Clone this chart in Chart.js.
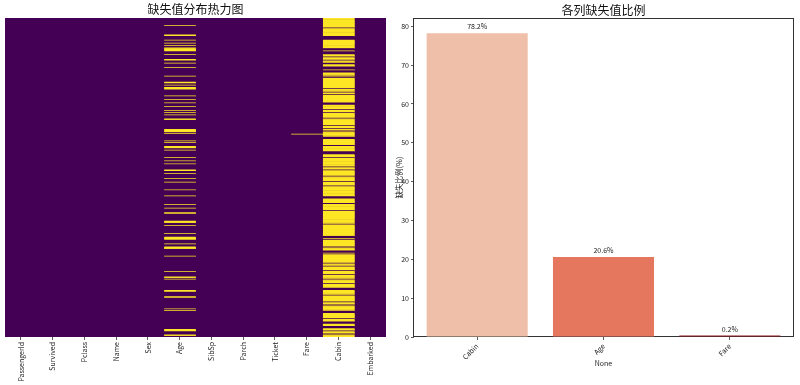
<!DOCTYPE html>
<html><head><meta charset="utf-8">
<script src="https://cdn.jsdelivr.net/npm/chart.js@4/dist/chart.umd.min.js"></script>
<style>
html,body{margin:0;padding:0;background:#fff;overflow:hidden;}
canvas{position:absolute;top:0;}
#heat{left:0;}
#bars{left:390px;}
</style></head><body>
<canvas id="heat" width="390" height="385"></canvas>
<canvas id="bars" width="410" height="385"></canvas>
<script>
// ---------- data ----------
const columns = ['PassengerId','Survived','Pclass','Name','Sex','Age','SibSp','Parch','Ticket','Fare','Cabin','Embarked'];
const rowCount = 418;
const ageMissingRows = [10,22,23,29,33,36,39,40,41,42,43,48,54,55,59,65,76,84,85,88,91,92,93,102,107,111,116,121,124,127,132,133,146,147,148,149,151,161,163,168,169,170,173,183,187,191,199,200,204,210,
  215,225,233,244,249,255,256,266,267,268,272,282,287,288,289,290,296,300,301,302,312,332,339,340,342,357,358,365,366,381,383,408,409,410,415,416];
const cabinPresentRows = [13,24,25,26,27,28,40,41,42,44,45,46,47,51,55,59,60,64,65,66,67,69,70,71,76,78,92,97,100,111,112,113,120,124,131,141,145,148,156,157,158,167,175,176,177,178,183,195,199,207,
  214,220,234,235,236,243,252,270,286,287,288,290,300,305,306,307,309,321,325,331,336,342,348,354,355,356,363,372,376,384,385,386,394,398,399,400,404,405,406,410,414];
const fareMissingRows = [152];

const barCategories = ['Cabin','Age','Fare'];
const barValues = [78.2, 20.6, 0.2];
const barColors = ['#f0bfa9','#e4775e','#8e1a1e'];
const yTickValues = [0,10,20,30,40,50,60,70,80];
const yMax = 82.11;

// ---------- setup ----------
const FONT = "'Noto Sans CJK SC','Noto Sans',sans-serif";
Chart.defaults.font.family = FONT;
Chart.defaults.color = '#222';
const PURPLE = '#440154', YELLOW = '#fde725';

function isMissing(col, r) {
  if (col === 'Age') return ageMissingRows.includes(r);
  if (col === 'Cabin') return !cabinPresentRows.includes(r);
  if (col === 'Fare') return fareMissingRows.includes(r);
  return false;
}
const rows = Array.from({length: rowCount}, (_, i) => i);

const backdrop = {
  id: 'backdrop',
  beforeDatasetsDraw(chart) {
    const a = chart.chartArea, c = chart.ctx;
    c.save(); c.fillStyle = PURPLE;
    c.fillRect(a.left, a.top, a.right - a.left, a.bottom - a.top);
    c.restore();
  }
};

new Chart(document.getElementById('heat'), {
  type: 'bar',
  data: {
    labels: rows,
    datasets: columns.map((col, j) => ({
      data: rows.map(() => [j, j + 1]),
      backgroundColor: rows.map(r => isMissing(col, r) ? YELLOW : PURPLE),
      borderWidth: 0,
      barPercentage: 1,
      categoryPercentage: 1,
      grouped: false
    }))
  },
  options: {
    indexAxis: 'y',
    responsive: false,
    animation: false,
    devicePixelRatio: 1,
    events: [],
    layout: {padding: {left: 5, right: 4, top: 0, bottom: 0}},
    plugins: {
      legend: {display: false},
      tooltip: {enabled: false},
      title: {display: true, text: '缺失值分布热力图', color: '#111', fullSize: false,
        font: {size: 12, weight: 'normal', family: FONT}, padding: {top: 2, bottom: 1.6}}
    },
    scales: {
      y: {type: 'category', display: false, offset: true},
      x: {
        type: 'linear', min: 0, max: 12,
        afterBuildTicks: s => { s.ticks = columns.map((c, i) => ({value: i + 0.5})); },
        afterFit: s => { s.height = 48; },
        ticks: {autoSkip: false, minRotation: 90, maxRotation: 90, padding: 2, color: '#222',
          font: {size: 7, family: FONT}, callback: v => columns[Math.floor(v)]},
        grid: {drawOnChartArea: false, drawTicks: true, tickLength: 3, color: '#333', lineWidth: 0.8},
        border: {display: false}
      }
    }
  },
  plugins: [backdrop]
});

const boxPlugin = {
  id: 'box',
  beforeDatasetsDraw(chart) {
    const a = chart.chartArea, c = chart.ctx;
    c.save(); c.strokeStyle = '#333'; c.lineWidth = 1;
    c.strokeRect(Math.round(a.left) - 0.5, Math.round(a.top) + 0.5, Math.round(a.right - a.left) + 1, Math.round(a.bottom - a.top) - 1);
    c.restore();
  }
};
const labelPlugin = {
  id: 'vlabels',
  afterDatasetsDraw(chart) {
    const c = chart.ctx, meta = chart.getDatasetMeta(0);
    c.save(); c.fillStyle = '#222'; c.font = '7px ' + FONT;
    c.textAlign = 'center'; c.textBaseline = 'middle';
    meta.data.forEach((bar, i) => c.fillText(barValues[i].toFixed(1) + '%', bar.x, bar.y - 6.5));
    c.restore();
  }
};

new Chart(document.getElementById('bars'), {
  type: 'bar',
  data: {labels: barCategories, datasets: [{data: barValues, backgroundColor: barColors, borderWidth: 0,
    barPercentage: 0.8, categoryPercentage: 1, minBarLength: 1.6}]},
  options: {
    responsive: false,
    animation: false,
    devicePixelRatio: 1,
    events: [],
    layout: {padding: {left: 0, right: 7, top: 0, bottom: 0}},
    plugins: {
      legend: {display: false},
      tooltip: {enabled: false},
      title: {display: true, text: '各列缺失值比例', color: '#111', fullSize: false,
        font: {size: 12, weight: 'normal', family: FONT}, padding: {top: 3.6, bottom: 0}}
    },
    scales: {
      x: {
        afterFit: s => { s.height = 48; },
        grid: {offset: false, drawOnChartArea: false, drawTicks: true, tickLength: 3, color: '#333', lineWidth: 0.8},
        border: {display: false},
        ticks: {minRotation: 45, maxRotation: 45, padding: 2, color: '#222', font: {size: 7, family: FONT}},
        title: {display: true, text: 'None', color: '#222', font: {size: 7, family: FONT}, padding: {top: 0, bottom: 17.8}}
      },
      y: {
        min: 0, max: yMax,
        afterBuildTicks: s => { s.ticks = yTickValues.map(v => ({value: v})); },
        afterFit: s => { s.width = 24; },
        grid: {drawOnChartArea: false, drawTicks: true, tickLength: 3, color: '#333', lineWidth: 0.8},
        border: {display: false},
        ticks: {padding: 2, color: '#222', font: {size: 7, family: FONT}},
        title: {display: true, text: '缺失比例(%)', color: '#222', font: {size: 7.5, family: FONT}, padding: {top: 4.5, bottom: 0}}
      }
    }
  },
  plugins: [boxPlugin, labelPlugin]
});
</script>
</body></html>
